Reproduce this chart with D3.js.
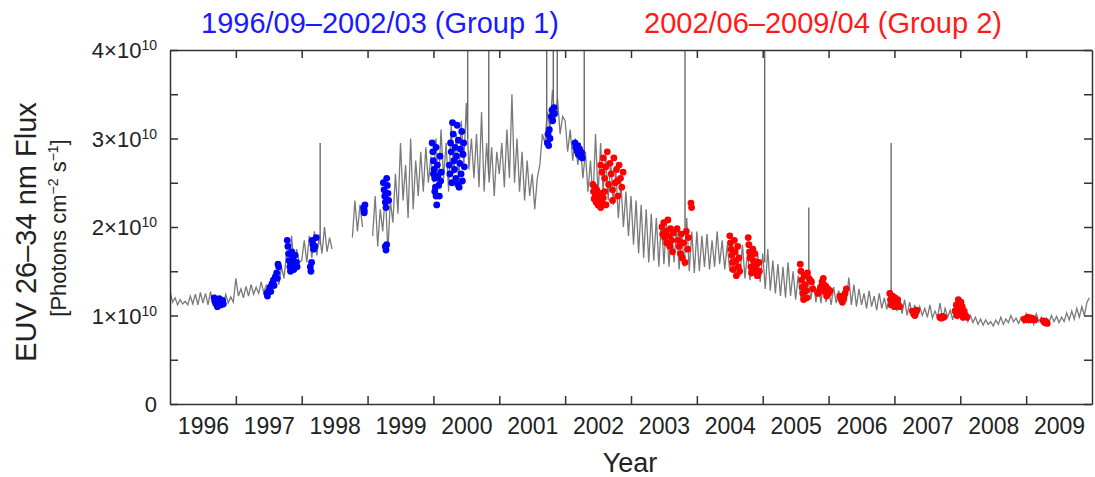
<!DOCTYPE html>
<html>
<head>
<meta charset="utf-8">
<script src="https://cdn.jsdelivr.net/npm/d3@7"></script>
<style>
body { margin: 0; background: #fff; }
text { font-family: "Liberation Sans", Arial, sans-serif; }
</style>
</head>
<body>
<script>
// EUV 26-34 nm flux, in units of 1e10, 26 samples per year (about one every 14 days)
const flux1996 = [1.28,1.15,1.20,1.12,1.18,1.13,1.16,1.12,1.22,1.13,1.24,1.12,1.26,1.14,1.25,1.12,1.27,1.13,1.22,1.11,1.20,1.12,1.24,1.14,1.21,1.15];
const flux1997 = [1.42,1.22,1.30,1.20,1.33,1.22,1.35,1.24,1.32,1.25,1.38,1.26,1.34,1.28,1.40,1.30,1.45,1.35,1.55,1.42,1.70,1.50,1.90,1.55,1.75,1.60];
const flux1998 = [1.62,1.85,1.60,1.90,1.65,1.95,1.68,1.92,1.70,2.00,1.72,1.88,1.75,null,null,null,null,null,null,null,1.88,2.30,1.95,2.25,2.00,null];
const flux1999 = [null,null,1.90,2.35,1.78,2.20,1.95,2.40,1.72,2.30,2.05,2.60,2.15,2.95,2.30,2.70,2.10,3.00,2.20,2.75,2.35,2.85,2.40,2.90,2.50,2.80];
const flux2000 = [2.50,3.00,2.45,3.10,2.55,2.95,2.40,3.15,2.60,3.05,2.50,3.20,2.70,3.40,2.65,3.00,2.55,3.05,2.45,3.30,2.40,2.95,2.50,2.90,2.35,2.85];
const flux2001 = [2.60,2.95,2.45,3.10,2.55,3.50,2.50,3.00,2.40,2.85,2.30,2.75,2.35,2.60,2.20,2.55,2.70,3.05,2.95,3.30,3.10,3.55,3.20,3.45,3.05,3.25];
const flux2002 = [3.20,2.85,3.10,2.75,3.00,2.70,2.95,2.55,2.85,2.40,2.75,2.30,3.05,2.35,2.95,2.40,2.80,2.30,2.75,2.25,2.65,2.10,2.50,2.00,2.40,1.90];
const flux2003 = [2.35,1.80,2.30,1.70,2.25,1.65,2.20,1.60,2.15,1.62,2.10,1.55,2.08,1.58,2.05,1.55,2.00,1.60,2.00,1.52,1.95,1.55,2.10,1.50,1.95,1.48];
const flux2004 = [1.95,1.50,1.90,1.55,1.92,1.52,1.85,1.55,1.95,1.58,1.85,1.52,1.80,1.50,1.78,1.48,1.75,1.45,1.80,1.42,1.72,1.40,1.75,1.42,1.70,1.38];
const flux2005 = [1.70,1.30,1.75,1.28,1.62,1.25,1.58,1.22,1.55,1.20,1.60,1.22,1.50,1.18,1.45,1.20,1.42,1.15,1.40,1.18,1.38,1.15,1.35,1.14,1.40,1.15];
const flux2006 = [1.30,1.12,1.32,1.14,1.28,1.12,1.30,1.15,1.43,1.12,1.35,1.10,1.30,1.12,1.25,1.08,1.28,1.10,1.22,1.06,1.25,1.08,1.20,1.07,1.22,1.10];
const flux2007 = [1.25,1.05,1.20,1.02,1.18,1.00,1.15,1.02,1.12,0.98,1.10,1.00,1.08,0.98,1.12,0.97,1.05,0.98,1.14,0.96,1.08,0.98,1.06,0.95,1.10,0.97];
const flux2008 = [1.05,0.95,1.02,0.93,1.00,0.92,0.98,0.90,0.96,0.89,0.95,0.90,0.93,0.88,0.95,0.90,0.98,0.90,0.96,0.92,1.00,0.93,0.97,0.91,0.98,0.92];
const flux2009 = [1.02,0.92,1.00,0.90,1.02,0.93,0.98,0.91,0.97,0.92,1.00,0.93,0.99,0.92,0.98,0.93,1.03,0.95,1.05,0.96,1.08,0.98,1.10,1.00,1.15,1.20];

const years = [1996, 1997, 1998, 1999, 2000, 2001, 2002, 2003, 2004, 2005, 2006, 2007, 2008, 2009];
const yearlyFlux = [flux1996, flux1997, flux1998, flux1999, flux2000, flux2001, flux2002,
    flux2003, flux2004, flux2005, flux2006, flux2007, flux2008, flux2009];

// flare spikes: date, level before the flare, peak
const flareDates = [1998.28, 2000.52, 2000.84, 2001.72, 2001.82, 2001.88, 2002.29, 2003.82, 2005.03, 2005.70, 2006.95];
const flareBase  = [1.80, 3.00, 2.60, 3.00, 3.20, 3.30, 2.80, 1.90, 1.60, 1.45, 1.20];
const flarePeak  = [2.95, 4.50, 4.50, 4.50, 4.50, 4.50, 4.50, 4.50, 4.50, 2.22, 2.95];

// Group 1 observation days (1996/09-2002/03): [year, flux]
const group1 = [
    [1996.67,1.20],[1996.68,1.16],[1996.70,1.13],[1996.71,1.18],[1996.72,1.10],[1996.74,1.14],[1996.75,1.19],[1996.77,1.12],[1996.79,1.15],[1996.80,1.17],[1996.81,1.13],
    [1997.47,1.25],[1997.48,1.22],[1997.50,1.28],[1997.52,1.32],[1997.53,1.27],[1997.55,1.36],[1997.57,1.40],[1997.58,1.34],[1997.60,1.44],[1997.62,1.48],[1997.63,1.42],[1997.65,1.55],[1997.64,1.58],
    [1997.78,1.85],[1997.79,1.78],[1997.80,1.70],[1997.81,1.62],[1997.82,1.55],[1997.83,1.50],[1997.85,1.72],[1997.86,1.65],[1997.87,1.58],[1997.88,1.52],[1997.90,1.68],[1997.92,1.60],[1997.93,1.55],
    [1998.13,1.55],[1998.14,1.50],[1998.15,1.60],[1998.16,1.85],[1998.17,1.80],[1998.18,1.75],[1998.20,1.78],[1998.22,1.88],
    [1998.94,2.22],[1998.95,2.16],[1998.96,2.25],[1998.95,2.19],
    [1999.24,2.50],[1999.25,2.42],[1999.26,2.35],[1999.27,2.28],[1999.28,2.22],[1999.29,2.55],[1999.30,2.47],[1999.31,2.38],[1999.32,2.30],[1999.27,1.78],[1999.28,1.74],[1999.29,1.80],
    [1999.98,2.95],[1999.99,2.85],[2000.00,2.75],[2000.01,2.65],[2000.02,2.55],[2000.03,2.45],[2000.04,2.35],[2000.05,2.25],[2000.00,2.60],[2000.02,2.40],[2000.06,2.70],[2000.07,2.58],[2000.08,2.47],[2000.09,2.35],[2000.10,2.80],[2000.11,2.52],[2000.04,2.90],[2000.12,2.62],
    [2000.24,2.70],[2000.25,2.60],[2000.26,2.95],[2000.27,2.85],[2000.28,2.50],[2000.30,3.05],[2000.31,2.75],[2000.32,2.65],[2000.33,2.90],[2000.34,2.55],[2000.35,2.80],[2000.36,3.15],[2000.37,2.48],[2000.38,2.98],[2000.40,2.72],[2000.41,2.88],[2000.42,2.60],[2000.43,3.08],[2000.44,2.52],[2000.45,2.82],[2000.46,2.95],[2000.47,2.68],[2000.29,3.18],[2000.39,2.45],
    [2001.73,2.95],[2001.74,3.05],[2001.75,2.92],[2001.76,3.10],[2001.77,3.00],[2001.79,3.25],[2001.80,3.32],[2001.81,3.20],[2001.83,3.35],[2001.84,3.28],
    [2002.15,2.95],[2002.16,2.90],[2002.18,2.86],[2002.19,2.92],[2002.20,2.82],[2002.22,2.88],[2002.23,2.80],[2002.25,2.84],[2002.26,2.78]
];

// Group 2 observation days (2002/06-2009/04): [year, flux]
const group2 = [
    [2002.42,2.48],[2002.43,2.40],[2002.44,2.32],[2002.45,2.45],[2002.46,2.36],[2002.47,2.28],[2002.48,2.42],[2002.50,2.25],[2002.51,2.35],[2002.52,2.30],[2002.54,2.22],[2002.55,2.38],[2002.57,2.27],[2002.58,2.33],[2002.60,2.40],[2002.62,2.25],
    [2002.54,2.70],[2002.56,2.62],[2002.58,2.78],[2002.60,2.55],[2002.62,2.68],[2002.64,2.85],[2002.66,2.48],[2002.68,2.72],[2002.70,2.60],[2002.72,2.42],[2002.74,2.78],[2002.76,2.50],[2002.78,2.65],[2002.80,2.35],[2002.82,2.70],[2002.84,2.55],[2002.86,2.45],[2002.88,2.62],[2002.72,2.30],[2002.80,2.52],
    [2003.47,2.00],[2003.48,1.92],[2003.50,2.05],[2003.51,1.88],[2003.53,1.95],[2003.54,1.82],[2003.56,2.08],[2003.57,1.90],[2003.59,1.78],[2003.60,1.98],[2003.62,1.85],[2003.63,1.72],[2003.64,1.93],
    [2003.70,1.98],[2003.72,1.85],[2003.73,1.78],[2003.75,1.70],[2003.76,1.92],[2003.78,1.65],[2003.80,1.82],[2003.82,1.60],[2003.84,1.95],[2003.86,1.75],[2003.87,1.88],[2003.91,2.27],[2003.92,2.22],
    [2004.50,1.90],[2004.51,1.82],[2004.52,1.75],[2004.53,1.68],[2004.54,1.60],[2004.55,1.52],[2004.57,1.85],[2004.58,1.72],[2004.59,1.62],[2004.60,1.45],[2004.62,1.78],[2004.63,1.55],[2004.64,1.65],[2004.65,1.50],
    [2004.78,1.88],[2004.79,1.80],[2004.80,1.72],[2004.81,1.65],[2004.82,1.55],[2004.83,1.48],[2004.85,1.75],[2004.86,1.62],[2004.88,1.70],[2004.89,1.52],[2004.91,1.58],[2004.92,1.45],[2004.94,1.60],[2004.95,1.50],
    [2005.57,1.58],[2005.58,1.50],[2005.59,1.40],[2005.60,1.32],[2005.61,1.25],[2005.62,1.18],[2005.63,1.45],[2005.64,1.35],[2005.66,1.28],[2005.67,1.20],[2005.68,1.48],[2005.70,1.42],[2005.72,1.40],[2005.74,1.38],[2005.76,1.30],
    [2005.84,1.25],[2005.86,1.28],[2005.88,1.32],[2005.90,1.38],[2005.91,1.30],[2005.92,1.42],[2005.93,1.35],[2005.94,1.27],[2005.96,1.33],[2005.97,1.22],[2005.99,1.30],[2006.00,1.25],[2006.02,1.28],
    [2006.17,1.22],[2006.19,1.18],[2006.21,1.15],[2006.23,1.20],[2006.25,1.25],[2006.27,1.30],
    [2006.93,1.25],[2006.94,1.18],[2006.95,1.12],[2006.97,1.22],[2006.98,1.15],[2007.00,1.10],[2007.01,1.20],[2007.03,1.14],[2007.05,1.18],[2007.06,1.12],[2007.08,1.10],
    [2007.27,1.05],[2007.29,1.02],[2007.31,1.00],[2007.33,1.04],[2007.34,1.06],
    [2007.69,0.98],[2007.71,0.97],[2007.73,0.99],[2007.75,0.98],
    [2007.92,1.05],[2007.94,1.12],[2007.95,1.00],[2007.97,1.18],[2007.98,1.08],[2008.00,1.02],[2008.01,1.15],[2008.03,1.10],[2008.04,0.98],[2008.06,1.05],[2008.08,1.00],[2008.10,0.98],
    [2008.97,0.96],[2008.99,0.95],[2009.01,0.97],[2009.03,0.98],[2009.05,0.96],[2009.07,0.95],[2009.09,0.97],[2009.11,0.96],[2009.13,0.95],
    [2009.26,0.94],[2009.28,0.92],[2009.30,0.93],[2009.32,0.91]
];

const yTicks = [0, 1, 2, 3, 4];
const yMinorTicks = [0.5, 1.5, 2.5, 3.5];
const yearBounds = d3.range(1997, 2010);

// layout
const width = 1095;
const height = 477;
const plot = {left: 170, right: 1092, top: 50, bottom: 404};

const svg = d3.select('body')
    .append('svg')
    .attr('width', width)
    .attr('height', height);

const xScale = d3.scaleLinear()
    .domain([1996, 2010])
    .range([plot.left, plot.right]);

const yScale = d3.scaleLinear()
    .domain([0, 4])
    .range([plot.bottom, plot.top]);

svg.append('clipPath')
    .attr('id', 'clip')
    .append('rect')
    .attr('x', plot.left)
    .attr('y', plot.top)
    .attr('width', plot.right - plot.left)
    .attr('height', plot.bottom - plot.top);

const series = [];
years.forEach((y, k) => {
    yearlyFlux[k].forEach((v, i) => series.push({t: y + i / 26, v: v}));
});

const line = d3.line()
    .defined(d => d.v !== null)
    .x(d => xScale(d.t))
    .y(d => yScale(d.v));

const g = svg.append('g').attr('clip-path', 'url(#clip)');

g.append('path')
    .datum(series)
    .attr('fill', 'none')
    .attr('stroke', '#7a7a7a')
    .attr('stroke-width', 1.3)
    .attr('d', line);

g.selectAll('.flare')
    .data(flareDates)
    .enter()
    .append('line')
    .attr('class', 'flare')
    .attr('x1', d => xScale(d))
    .attr('x2', d => xScale(d))
    .attr('y1', (d, i) => yScale(flareBase[i]))
    .attr('y2', (d, i) => yScale(flarePeak[i]))
    .attr('stroke', '#6a6a6a')
    .attr('stroke-width', 1.4);

g.selectAll('.g1')
    .data(group1)
    .enter()
    .append('circle')
    .attr('cx', d => xScale(d[0]))
    .attr('cy', d => yScale(d[1]))
    .attr('r', 3.4)
    .attr('fill', '#0000ff');

g.selectAll('.g2')
    .data(group2)
    .enter()
    .append('circle')
    .attr('cx', d => xScale(d[0]))
    .attr('cy', d => yScale(d[1]))
    .attr('r', 3.4)
    .attr('fill', '#ff0000');

// frame axes, ticks pointing inward
function styleAxis(sel) {
    sel.selectAll('path, line').attr('stroke', '#333').attr('stroke-width', 1.5);
    sel.selectAll('text').remove();
}

svg.append('g')
    .attr('transform', 'translate(0,' + plot.bottom + ')')
    .call(d3.axisBottom(xScale).tickValues(yearBounds).tickSizeInner(-8).tickSizeOuter(0))
    .call(styleAxis);

svg.append('g')
    .attr('transform', 'translate(0,' + plot.top + ')')
    .call(d3.axisTop(xScale).tickValues(yearBounds).tickSizeInner(-8).tickSizeOuter(0))
    .call(styleAxis);

svg.append('g')
    .attr('transform', 'translate(' + plot.left + ',0)')
    .call(d3.axisLeft(yScale).tickValues(yTicks.concat(yMinorTicks)).tickSizeInner(-8).tickSizeOuter(0))
    .call(styleAxis);

svg.append('g')
    .attr('transform', 'translate(' + plot.right + ',0)')
    .call(d3.axisRight(yScale).tickValues(yTicks.concat(yMinorTicks)).tickSizeInner(-8).tickSizeOuter(0))
    .call(styleAxis);

// year labels centred between the year ticks
svg.append('g')
    .attr('transform', 'translate(0,' + plot.bottom + ')')
    .call(d3.axisBottom(xScale).tickValues(years.map(y => y + 0.5)).tickSize(0).tickPadding(14)
        .tickFormat(d => String(Math.floor(d))))
    .call(sel => {
        sel.select('.domain').remove();
        sel.selectAll('text')
            .attr('font-size', 23)
            .attr('fill', '#222')
            .attr('font-family', '"Liberation Sans", Arial, sans-serif');
    });

// y tick labels with powers of ten
const yLabels = svg.append('g');
yTicks.forEach(v => {
    const t = yLabels.append('text')
        .attr('x', 157)
        .attr('y', yScale(v) + 8)
        .attr('text-anchor', 'end')
        .attr('font-size', 22)
        .attr('fill', '#222');
    if (v === 0) {
        t.text('0');
    } else {
        t.append('tspan').text(v + '\u00d710');
        t.append('tspan').attr('font-size', 14).attr('dy', -8).text('10');
    }
});

svg.append('text')
    .attr('transform', 'translate(36,232) rotate(-90)')
    .attr('text-anchor', 'middle')
    .attr('font-size', 29)
    .attr('fill', '#222')
    .text('EUV 26\u201334 nm Flux');

const unit = svg.append('text')
    .attr('transform', 'translate(66,228) rotate(-90)')
    .attr('text-anchor', 'middle')
    .attr('font-size', 22)
    .attr('fill', '#222');
unit.append('tspan').text('[Photons cm');
unit.append('tspan').attr('font-size', 14).attr('dy', -8).text('\u22122');
unit.append('tspan').attr('dy', 8).text(' s');
unit.append('tspan').attr('font-size', 14).attr('dy', -8).text('\u22121');
unit.append('tspan').attr('dy', 8).text(']');

svg.append('text')
    .attr('x', 630)
    .attr('y', 472)
    .attr('text-anchor', 'middle')
    .attr('font-size', 27)
    .attr('fill', '#222')
    .text('Year');

svg.append('text')
    .attr('x', 380)
    .attr('y', 33)
    .attr('text-anchor', 'middle')
    .attr('font-size', 29)
    .attr('fill', '#1a1aff')
    .text('1996/09\u20132002/03 (Group 1)');

svg.append('text')
    .attr('x', 823)
    .attr('y', 33)
    .attr('text-anchor', 'middle')
    .attr('font-size', 29)
    .attr('fill', '#ff1a1a')
    .text('2002/06\u20132009/04 (Group 2)');
</script>
</body>
</html>
